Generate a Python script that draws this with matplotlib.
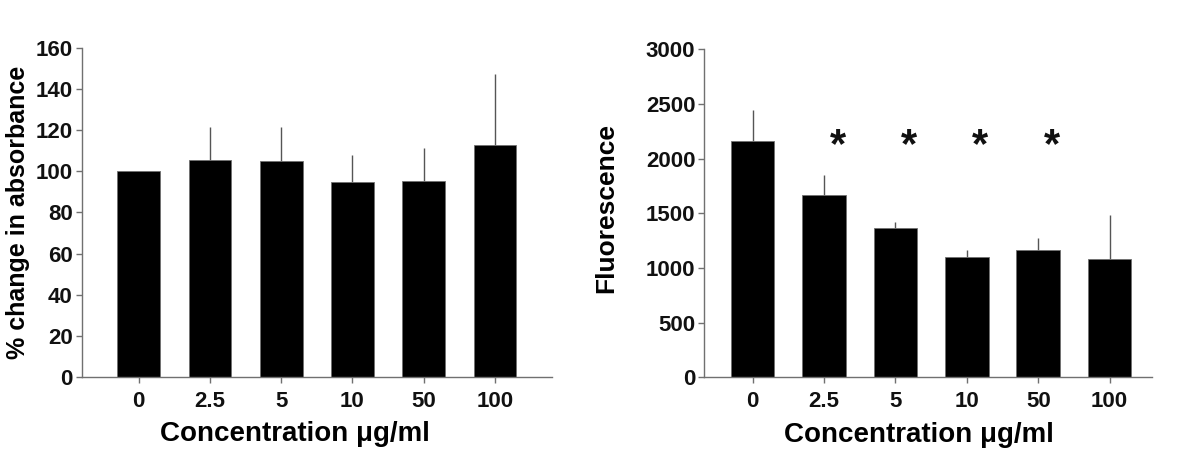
import numpy as np
import matplotlib
matplotlib.use("Agg")
import matplotlib.pyplot as plt
import matplotlib as mpl

plt.rcParams["font.family"] = ["Liberation Sans", "DejaVu Sans"]
plt.rcParams["font.weight"] = "bold"
mpl.rcParams['xtick.direction'] = 'out'
mpl.rcParams['ytick.direction'] = 'out'

# data
conc_labels = ["0", "2.5", "5", "10", "50", "100"]
absorb_mean = [100, 105.5, 105, 94.7, 95.3, 112.8]
absorb_err = [0, 16.2, 16.7, 13.1, 16.1, 34.6]
fluor_mean = [2164, 1670, 1363, 1098, 1162, 1082]
fluor_err = [281, 178, 58, 69, 110, 403]
signif = [False, True, True, True, True, False]

axis_col = '#707070'
err_col = '#555555'

f = plt.figure(figsize=(12, 4.53), dpi=100)
ax1 = f.add_axes([0.068, 0.1678, 0.392, 0.7263])
ax2 = f.add_axes([0.587, 0.167, 0.3728, 0.724])

def style(ax, ylim, yticks, xlim):
    ax.set_ylim(*ylim)
    ax.set_xlim(*xlim)
    ax.set_yticks(yticks)
    ax.set_xticks(range(len(conc_labels)))
    ax.set_xticklabels(conc_labels)
    for s in ['top', 'right']:
        ax.spines[s].set_visible(False)
    for s in ['left', 'bottom']:
        ax.spines[s].set_color(axis_col)
        ax.spines[s].set_linewidth(1.0)
    ax.tick_params(axis='both', colors=axis_col, length=4, width=1.0,
                   labelsize=16, labelcolor='#111111')
    ax.tick_params(axis='x', pad=6)
    ax.tick_params(axis='y', pad=2.5)
    for lab in ax.get_xticklabels() + ax.get_yticklabels():
        lab.set_fontweight('bold')

x = np.arange(len(conc_labels))

# left panel
ax1.bar(x, absorb_mean, width=0.6, color='black', edgecolor=axis_col, linewidth=0.6, zorder=2)
ax1.errorbar(x, absorb_mean, yerr=[np.zeros(len(x)), absorb_err], fmt='none',
             ecolor=err_col, elinewidth=1.0, capsize=0, zorder=1)
style(ax1, (0, 160), range(0, 161, 20), (-0.8, 5.8))
ax1.set_ylabel('% change in absorbance', fontsize=18, fontweight='bold', labelpad=4)
ax1.set_xlabel('Concentration \u03bcg/ml', fontsize=20, fontweight='bold')
ax1.xaxis.set_label_coords(0.454, -0.135)

# right panel
ax2.bar(x, fluor_mean, width=0.61, color='black', edgecolor=axis_col, linewidth=0.6, zorder=2)
ax2.errorbar(x, fluor_mean, yerr=[np.zeros(len(x)), fluor_err], fmt='none',
             ecolor=err_col, elinewidth=1.0, capsize=0, zorder=1)
style(ax2, (0, 3000), range(0, 3001, 500), (-0.675, 5.59))
ax2.set_ylabel('Fluorescence', fontsize=19, fontweight='bold')
ax2.yaxis.set_label_coords(-0.192, 0.515)
ax2.set_xlabel('Concentration \u03bcg/ml', fontsize=20, fontweight='bold')
ax2.xaxis.set_label_coords(0.479, -0.135)

for i, s in enumerate(signif):
    if s:
        ax2.text(i + 0.19, 2120, '*', ha='center', va='center', fontsize=30,
                 fontweight='bold', color='#111111')

plt.savefig('out.png', dpi=100)
